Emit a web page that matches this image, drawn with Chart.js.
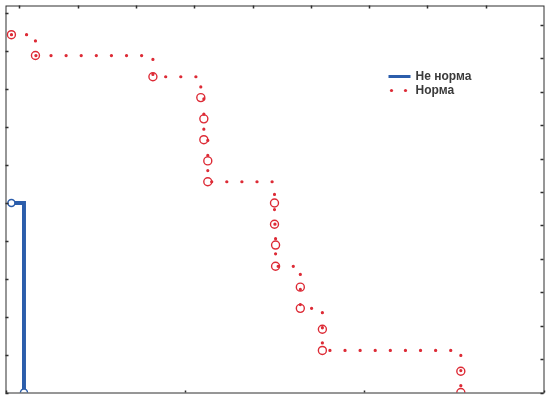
<!DOCTYPE html>
<html>
<head>
<meta charset="utf-8">
<script src="https://cdn.jsdelivr.net/npm/chart.js@4/dist/chart.umd.min.js"></script>
<style>
  html, body { margin: 0; padding: 0; background: #fff; }
  #chart { display: block; }
</style>
</head>
<body>
<canvas id="chart" width="549" height="398"></canvas>
<script>
// Kaplan-Meier curves, time on x, survival share on y
const normTime = [0.033, 0.167, 0.822, 1.089, 1.106, 1.106, 1.128, 1.128, 1.5, 1.5, 1.506, 1.506, 1.644, 1.644, 1.767, 1.767, 2.539, 2.539];
const normSurv = [0.944, 0.889, 0.833, 0.778, 0.722, 0.667, 0.611, 0.556, 0.5, 0.444, 0.389, 0.333, 0.278, 0.222, 0.167, 0.111, 0.056, 0];
const abnormTime = [0.033, 0.103];
const abnormSurv = [0.5, 0];

const seriesNames = ['Не норма', 'Норма'];

// tick positions (labels are not shown in the picture)
const bottomTicks = [0, 1, 2, 3];
const topTicks = [0, 1, 2, 3, 4, 5, 6, 7, 8];
const leftTicks = [0, 0.1, 0.2, 0.3, 0.4, 0.5, 0.6, 0.7, 0.8, 0.9, 1.0];
const rightTicks = [0, 1, 2, 3, 4, 5, 6, 7, 8, 9, 10, 11];

const blue = '#2b5dab';
const red = '#dd2b36';

const toPoints = (xs, ys) => xs.map((x, i) => ({ x: x, y: ys[i] }));

// frame + small tick marks on all four sides
const framePlugin = {
    id: 'frame',
    afterDraw(chart) {
        const { ctx, chartArea: a, scales } = chart;
        ctx.save();
        ctx.strokeStyle = '#2e2e2e';
        ctx.lineWidth = 1;
        ctx.strokeRect(a.left + 0.5, a.top + 0.5, a.right - a.left, a.bottom - a.top);
        ctx.lineWidth = 1.5;
        ctx.beginPath();
        bottomTicks.forEach(v => {
            const px = Math.round(scales.x.getPixelForValue(v)) + 0.5;
            ctx.moveTo(px, a.bottom); ctx.lineTo(px, a.bottom - 2);
        });
        topTicks.forEach(v => {
            const px = Math.round(scales.x2.getPixelForValue(v)) + 0.5;
            ctx.moveTo(px, a.top); ctx.lineTo(px, a.top + 3);
        });
        leftTicks.forEach(v => {
            const py = Math.round(scales.y.getPixelForValue(v)) + 0.5;
            ctx.moveTo(a.left, py); ctx.lineTo(a.left + 3, py);
        });
        rightTicks.forEach(v => {
            const py = Math.round(scales.y2.getPixelForValue(v)) + 0.5;
            ctx.moveTo(a.right, py); ctx.lineTo(a.right - 3, py);
        });
        ctx.stroke();
        ctx.restore();
    }
};

// legend inside the plot, upper right
const legendPlugin = {
    id: 'innerLegend',
    afterDraw(chart) {
        const { ctx, chartArea: a } = chart;
        const x0 = a.left + 383;
        const y0 = a.top + 71;
        ctx.save();
        ctx.strokeStyle = blue;
        ctx.lineWidth = 3;
        ctx.beginPath();
        ctx.moveTo(x0, y0); ctx.lineTo(x0 + 22, y0);
        ctx.stroke();
        ctx.fillStyle = red;
        [x0 + 3, x0 + 17].forEach(px => {
            ctx.beginPath();
            ctx.arc(px, y0 + 14, 1.6, 0, Math.PI * 2);
            ctx.fill();
        });
        ctx.fillStyle = '#3a3a3a';
        ctx.font = 'bold 12px "Liberation Sans", Arial, sans-serif';
        ctx.textBaseline = 'middle';
        ctx.fillText(seriesNames[0], x0 + 27, y0 + 0.5);
        ctx.fillText(seriesNames[1], x0 + 27, y0 + 14.5);
        ctx.restore();
    }
};

new Chart(document.getElementById('chart'), {
    type: 'line',
    data: {
        datasets: [
            {
                label: seriesNames[1],
                data: toPoints(normTime, normSurv),
                stepped: true,
                borderColor: red,
                borderWidth: 3.2,
                borderDash: [0.1, 15],
                borderCapStyle: 'round',
                pointRadius: 4,
                pointBorderWidth: 1.4,
                pointBorderColor: red,
                pointBackgroundColor: 'rgba(255,255,255,0)'
            },
            {
                label: seriesNames[0],
                data: toPoints(abnormTime, abnormSurv),
                stepped: true,
                borderColor: blue,
                borderWidth: 4,
                pointRadius: 3.5,
                pointBorderWidth: 1.5,
                pointBorderColor: blue,
                pointBackgroundColor: '#fff'
            }
        ]
    },
    options: {
        responsive: false,
        animation: false,
        layout: { padding: { left: 4, top: 4, right: 5, bottom: 5 } },
        plugins: {
            legend: { display: false },
            tooltip: { enabled: false }
        },
        scales: {
            x: { type: 'linear', display: false, min: 0, max: 3 },
            x2: { type: 'linear', display: false, position: 'top', min: -0.239, max: 8.99 },
            y: { type: 'linear', display: false, min: 0, max: 1.021 },
            y2: { type: 'linear', display: false, position: 'right', min: 0, max: 11.58 }
        }
    },
    plugins: [framePlugin, legendPlugin]
});
</script>
</body>
</html>
